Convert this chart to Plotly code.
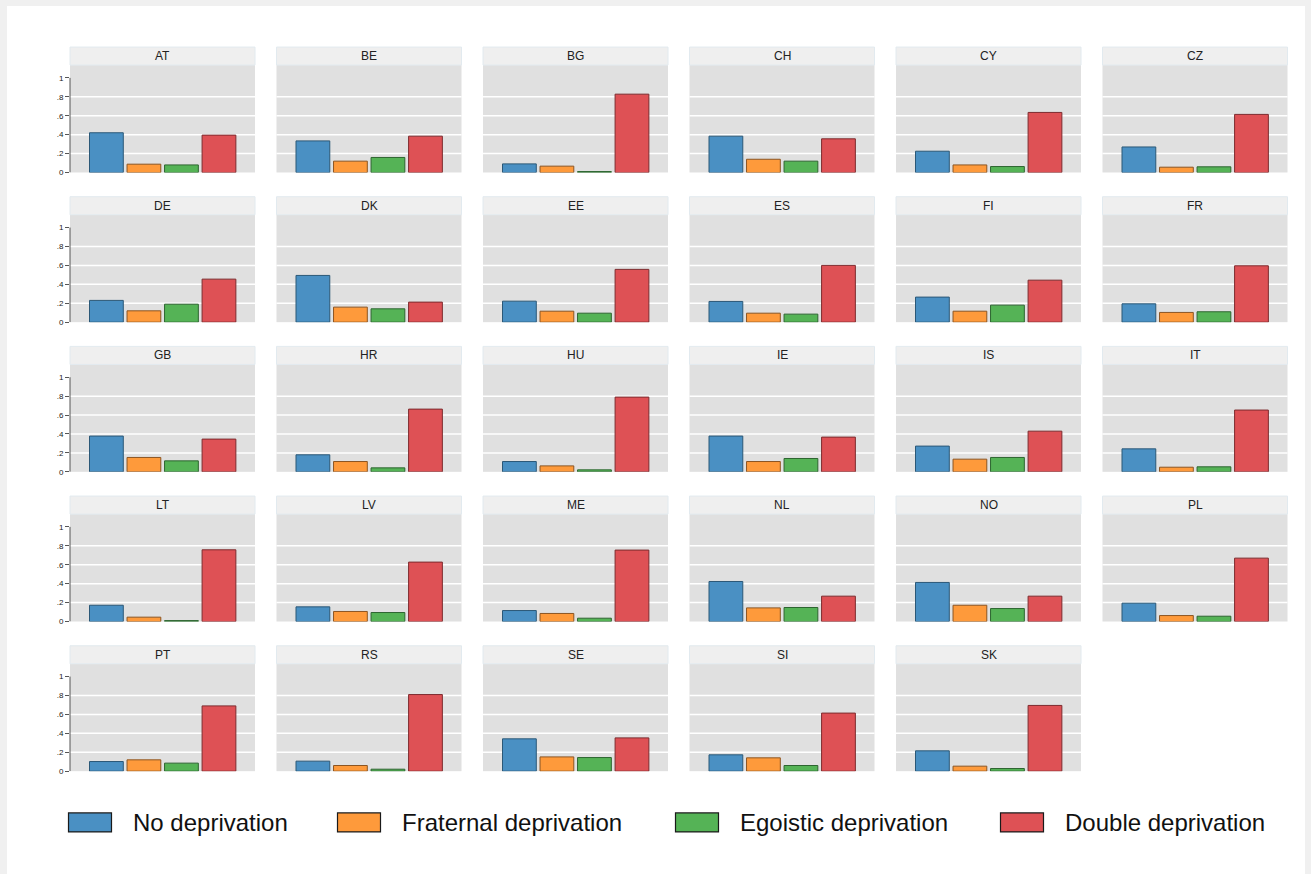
import plotly.graph_objects as go

W, H = 1311, 879
# effective drawing height of the page, used for vertical placement
H_EFF = 873.0

countries = ["AT", "BE", "BG", "CH", "CY", "CZ",
             "DE", "DK", "EE", "ES", "FI", "FR",
             "GB", "HR", "HU", "IE", "IS", "IT",
             "LT", "LV", "ME", "NL", "NO", "PL",
             "PT", "RS", "SE", "SI", "SK"]

series_names = ["No deprivation", "Fraternal deprivation",
                "Egoistic deprivation", "Double deprivation"]

no_deprivation = [0.420, 0.334, 0.091, 0.384, 0.225, 0.270,
                  0.230, 0.494, 0.222, 0.219, 0.265, 0.194,
                  0.378, 0.180, 0.109, 0.378, 0.272, 0.243,
                  0.172, 0.155, 0.116, 0.423, 0.413, 0.194,
                  0.102, 0.106, 0.342, 0.173, 0.215]
fraternal = [0.088, 0.120, 0.067, 0.140, 0.080, 0.056,
             0.120, 0.159, 0.116, 0.095, 0.116, 0.103,
             0.152, 0.109, 0.063, 0.109, 0.134, 0.049,
             0.046, 0.106, 0.085, 0.144, 0.172, 0.063,
             0.120, 0.060, 0.151, 0.141, 0.053]
egoistic = [0.080, 0.159, 0.010, 0.120, 0.063, 0.060,
            0.190, 0.141, 0.095, 0.085, 0.180, 0.110,
            0.116, 0.042, 0.021, 0.141, 0.152, 0.053,
            0.010, 0.095, 0.035, 0.148, 0.137, 0.056,
            0.085, 0.021, 0.144, 0.060, 0.028]
double = [0.395, 0.384, 0.828, 0.356, 0.635, 0.614,
          0.455, 0.212, 0.558, 0.600, 0.444, 0.596,
          0.346, 0.663, 0.790, 0.367, 0.430, 0.653,
          0.758, 0.628, 0.755, 0.268, 0.268, 0.670,
          0.690, 0.810, 0.352, 0.614, 0.695]

ytick_vals = [0, 0.2, 0.4, 0.6, 0.8, 1]
ytick_text = ["0", ".2", ".4", ".6", ".8", "1"]
grid_vals = [0.2, 0.4, 0.6, 0.8]

fills = ["#4a90c3", "#fe9a3b", "#55b356", "#de5155"]
edges = ["#2b5877", "#8c5522", "#2d6530", "#7d2b2e"]

FONT = "Liberation Sans, Arial, sans-serif"

# panel geometry in pixels
N_COLS = 6
COL_LEFT, COL_PITCH, PANEL_W = 70.0, 206.5, 185.0
ROW_TOP, ROW_PITCH = 47.0, 149.5
HEADER_H, PLOT_BOTTOM = 18.0, 125.3
PX_PER_UNIT = 94.5
Y_MAX = (PLOT_BOTTOM - HEADER_H) / PX_PER_UNIT


def px(x):
    return x / W


def py(y):
    return 1 - y / H_EFF


fig = go.Figure()
shapes = []
annotations = []

# grey page border strips (top, left, right)
BORDER = "#f0f0f0"
for bx0, by0, bx1, by1 in [(0, 0, W, 6), (0, 0, 7, H_EFF), (1305, 0, W, H_EFF)]:
    shapes.append(dict(type="rect", xref="paper", yref="paper",
                       x0=px(bx0), x1=px(bx1), y0=py(by1), y1=py(by0),
                       fillcolor=BORDER, line=dict(width=0), layer="above"))

for i, country in enumerate(countries):
    r, c = divmod(i, N_COLS)
    k = i + 1
    sfx = "" if k == 1 else str(k)
    x0 = COL_LEFT + c * COL_PITCH
    x1 = x0 + PANEL_W
    top = ROW_TOP + r * ROW_PITCH
    plot_top = top + HEADER_H
    plot_bot = top + PLOT_BOTTOM

    vals = [no_deprivation[i], fraternal[i], egoistic[i], double[i]]
    fig.add_trace(go.Bar(
        x=series_names, y=vals, width=0.9,
        marker=dict(color=fills, line=dict(color=edges, width=1)),
        xaxis="x" + sfx, yaxis="y" + sfx, showlegend=False,
        hovertemplate=country + "<br>%{x}: %{y:.2f}<extra></extra>",
    ))

    first_col = (c == 0)
    fig.layout["xaxis" + sfx] = dict(
        domain=[px(x0), px(x1)], anchor="y" + sfx,
        type="category", range=[-0.97, 3.96],
        showgrid=False, zeroline=False, showticklabels=False,
        ticks="", showline=False, fixedrange=True,
    )
    fig.layout["yaxis" + sfx] = dict(
        domain=[py(plot_bot), py(plot_top)], anchor="x" + sfx,
        range=[0, Y_MAX], showgrid=False, zeroline=False, showline=False,
        tickvals=ytick_vals, ticktext=ytick_text,
        showticklabels=first_col, ticks="outside" if first_col else "",
        ticklen=4, tickcolor="#555555", tickwidth=1,
        tickfont=dict(size=8, color="#222222", family=FONT),
        fixedrange=True,
    )

    # horizontal grid
    for g in grid_vals:
        shapes.append(dict(type="line", xref="x%s domain" % sfx, yref="y" + sfx,
                           x0=0, x1=1, y0=g, y1=g,
                           line=dict(color="white", width=1.5), layer="below"))
    # y axis line from 0 to 1
    if first_col:
        shapes.append(dict(type="line", xref="x%s domain" % sfx, yref="y" + sfx,
                           x0=0, x1=0, y0=0, y1=1,
                           line=dict(color="#555555", width=1), layer="above"))

    # header strip
    shapes.append(dict(type="rect", xref="paper", yref="paper",
                       x0=px(x0), x1=px(x1), y0=py(plot_top), y1=py(top),
                       fillcolor="#efefef", line=dict(color="#e2eaef", width=1),
                       layer="below"))
    annotations.append(dict(xref="paper", yref="paper",
                            x=px((x0 + x1) / 2), y=py(top + HEADER_H / 2),
                            text=country, showarrow=False,
                            xanchor="center", yanchor="middle",
                            font=dict(size=12, color="#222222", family=FONT)))

# legend
legend_boxes = [68.5, 337.5, 675.5, 1000.5]
BOX_W, BOX_Y0, BOX_Y1 = 43.0, 812.0, 831.0
for name, bx, f, e in zip(series_names, legend_boxes, fills, edges):
    shapes.append(dict(type="rect", xref="paper", yref="paper",
                       x0=px(bx), x1=px(bx + BOX_W), y0=py(BOX_Y1), y1=py(BOX_Y0),
                       fillcolor=f, line=dict(color="#1a1a1a", width=1.2),
                       layer="above"))
    annotations.append(dict(xref="paper", yref="paper",
                            x=px(bx + BOX_W + 19), y=py((BOX_Y0 + BOX_Y1) / 2),
                            text=name, showarrow=False,
                            xanchor="left", yanchor="middle",
                            font=dict(size=24, color="#111111", family=FONT)))

fig.update_layout(
    width=W, height=H,
    margin=dict(l=0, r=0, t=0, b=0),
    paper_bgcolor="white",
    plot_bgcolor="#e0e0e0",
    shapes=shapes, annotations=annotations,
    showlegend=False,
    font=dict(family=FONT),
)

fig.write_html("out.html")
